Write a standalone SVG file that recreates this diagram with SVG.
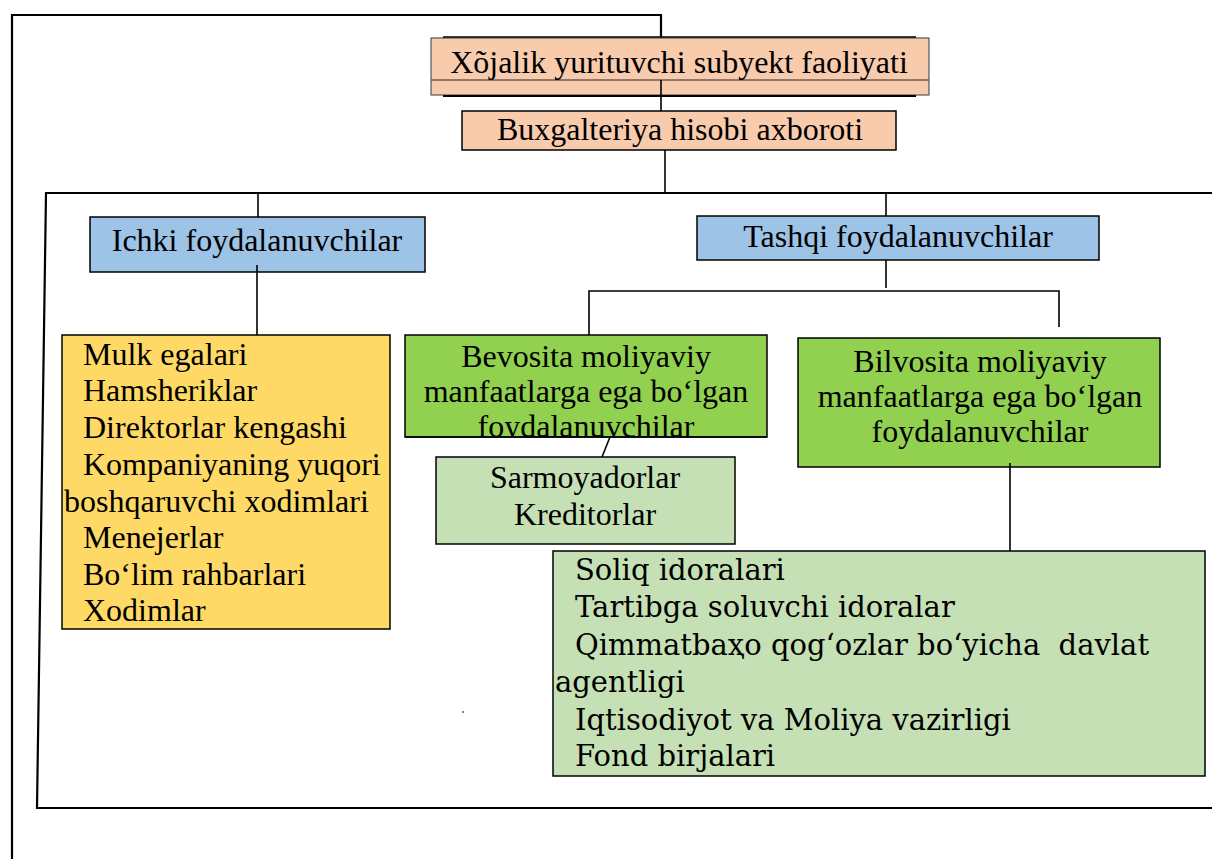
<svg xmlns="http://www.w3.org/2000/svg" width="1212" height="859" viewBox="0 0 1212 859">
  <style>
    .t { font-family: "Liberation Serif", "Times New Roman", serif; font-size: 32px; fill: #000; }
    .c { text-anchor: middle; }
    .d { font-family: "DejaVu Serif", "Liberation Serif", serif; font-size: 29px; fill: #000; }
    .box { stroke: #000; stroke-width: 1.5; }
    .peach { fill: #F8CBAD; }
    .blue { fill: #9DC3E6; }
    .yellow { fill: #FFD966; }
    .green { fill: #92D050; }
    .lgreen { fill: #C5E0B4; }
    .ln { fill: none; stroke: #000; stroke-width: 1.6; }
    .fr { fill: none; stroke: #000; stroke-width: 2.2; }
  </style>
  <defs>
    <clipPath id="clipBev">
      <rect x="405" y="335" width="362" height="102"/>
    </clipPath>
  </defs>
  <rect width="1212" height="859" fill="#fff"/>

  <!-- frames and connectors -->
  <g id="connectors">
    <polyline class="fr" points="12,859 12,15 661,15 661,37"/>
    <polyline class="fr" points="1212,193 46,193 37,808 1212,808"/>
    <line class="ln" x1="661" y1="80" x2="661" y2="111"/>
    <line class="ln" x1="665" y1="150" x2="665" y2="193"/>
    <line class="ln" x1="258" y1="193" x2="258" y2="217"/>
    <line class="ln" x1="886" y1="193" x2="886" y2="216"/>
    <line class="ln" x1="886" y1="260" x2="886" y2="288"/>
    <polyline class="ln" points="589,335 589,291 1059,291 1059,327"/>
    <line class="ln" x1="610" y1="437" x2="602" y2="457"/>
    <rect x="462" y="711" width="2" height="2" fill="#888"/>
  </g>

  <g id="n-faoliyat">
    <rect x="431" y="38" width="498" height="57" fill="#F8CBAD" stroke="#555" stroke-width="1.2"/>
    <line x1="443" y1="37" x2="916" y2="37" stroke="#000" stroke-width="1.6"/>
    <line x1="431" y1="80" x2="929" y2="80" stroke="#6e5b50" stroke-width="1.6"/>
    <line x1="443" y1="96" x2="916" y2="96" stroke="#000" stroke-width="2"/>
    <line x1="661" y1="80" x2="661" y2="96" stroke="#000" stroke-width="1.6"/>
    <text class="t c" x="679" y="73">Xõjalik yurituvchi subyekt faoliyati</text>
  </g>

  <g id="n-axborot">
    <rect class="box peach" x="462" y="111" width="434" height="39"/>
    <text class="t c" x="680" y="140">Buxgalteriya hisobi axboroti</text>
  </g>

  <g id="n-ichki">
    <rect class="box blue" x="90" y="217" width="335" height="55"/>
    <text class="t c" x="257" y="251">Ichki foydalanuvchilar</text>
    <line class="ln" x1="257" y1="265" x2="257" y2="335"/>
  </g>

  <g id="n-tashqi">
    <rect class="box blue" x="697" y="216" width="402" height="44"/>
    <text class="t c" x="898" y="247">Tashqi foydalanuvchilar</text>
  </g>

  <g id="n-ichki-list">
    <rect class="box yellow" x="62" y="335" width="328" height="294"/>
    <text class="t" x="83" y="365">Mulk egalari</text>
    <text class="t" x="83" y="401">Hamsheriklar</text>
    <text class="t" x="83" y="438">Direktorlar kengashi</text>
    <text class="t" x="83" y="475">Kompaniyaning yuqori</text>
    <text class="t" x="64" y="512">boshqaruvchi xodimlari</text>
    <text class="t" x="83" y="548">Menejerlar</text>
    <text class="t" x="83" y="585">Bo‘lim rahbarlari</text>
    <text class="t" x="83" y="621">Xodimlar</text>
  </g>

  <g id="n-bevosita">
    <rect class="box green" x="405" y="335" width="362" height="102"/>
    <g clip-path="url(#clipBev)">
      <text class="t c" x="586" y="367">Bevosita moliyaviy</text>
      <text class="t c" x="586" y="402">manfaatlarga ega bo‘lgan</text>
      <text class="t c" x="586" y="437">foydalanuvchilar</text>
    </g>
    <line x1="405" y1="437" x2="767" y2="437" stroke="#000" stroke-width="1.5"/>
  </g>

  <g id="n-sarmoya">
    <rect class="box lgreen" x="436" y="457" width="299" height="87"/>
    <text class="t c" x="585" y="488">Sarmoyadorlar</text>
    <text class="t c" x="585" y="525">Kreditorlar</text>
  </g>

  <g id="n-bilvosita">
    <rect class="box green" x="798" y="338" width="362" height="129"/>
    <text class="t c" x="980" y="372">Bilvosita moliyaviy</text>
    <text class="t c" x="980" y="407">manfaatlarga ega bo‘lgan</text>
    <text class="t c" x="980" y="442">foydalanuvchilar</text>
    <line class="ln" x1="1010" y1="463" x2="1010" y2="551"/>
  </g>

  <g id="n-davlat">
    <rect class="box lgreen" x="553" y="551" width="652" height="225"/>
    <text class="d" x="575" y="580">Soliq idoralari</text>
    <text class="d" x="575" y="617">Tartibga soluvchi idoralar</text>
    <text class="d" x="575" y="655" xml:space="preserve">Qimmatbaҳo qog‘ozlar bo‘yicha  davlat</text>
    <text class="d" x="555" y="692">agentligi</text>
    <text class="d" x="575" y="730">Iqtisodiyot va Moliya vazirligi</text>
    <text class="d" x="575" y="766">Fond birjalari</text>
  </g>
</svg>
